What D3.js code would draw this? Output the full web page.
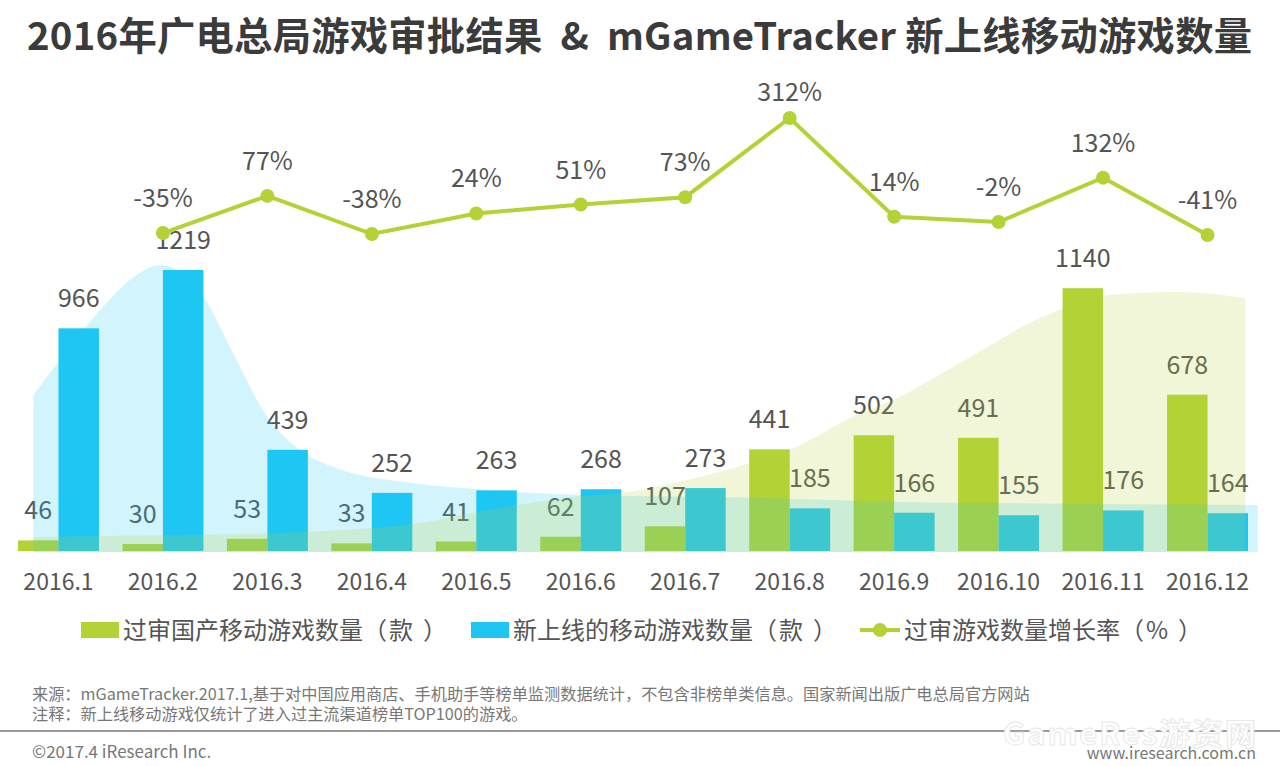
<!DOCTYPE html>
<html>
<head>
<meta charset="utf-8">
<script src="https://cdn.jsdelivr.net/npm/d3@7"></script>
<style>
html, body { margin: 0; padding: 0; background: #fff; }
svg { display: block; }
text { font-family: "Noto Sans CJK SC", "Noto Sans", sans-serif; }
</style>
</head>
<body>
<div id="chart"></div>
<script>
var months = ["2016.1", "2016.2", "2016.3", "2016.4", "2016.5", "2016.6", "2016.7", "2016.8", "2016.9", "2016.10", "2016.11", "2016.12"];
var approved = [46, 30, 53, 33, 41, 62, 107, 441, 502, 491, 1140, 678];
var launched = [966, 1219, 439, 252, 263, 268, 273, 185, 166, 155, 176, 164];
var growthMonths = months.slice(1);
var growth = [-35, 77, -38, 24, 51, 73, 312, 14, -2, 132, -41];

// soft background shapes behind the bars: month position, value
var launchedShapePos = [-0.24, 0, 0.4, 0.72, 0.976, 1.39, 1.67, 2.0, 2.31, 2.63, 3.46, 4.01, 5.01, 6.35, 8.05, 9.01, 11.48];
var launchedShapeVal = [677, 820, 1046, 1189, 1241, 1102, 859, 581, 438, 364, 291, 269, 243, 234, 213, 208, 200];
var approvedShapePos = [-0.24, 0.39, 2.09, 3.46, 4.01, 4.39, 5.01, 5.38, 6.02, 6.62, 7.0, 7.6, 7.99, 8.63, 9.42, 10.06, 10.7, 11.36];
var approvedShapeVal = [61, 65, 78, 121, 169, 200, 239, 252, 308, 382, 438, 581, 655, 816, 1015, 1111, 1124, 1098];

var legendNames = ["过审国产移动游戏数量", "新上线的移动游戏数量", "过审游戏数量增长率"];
var legendUnits = ["款", "款", "%"];
var footnotes = ["来源：mGameTracker.2017.1,基于对中国应用商店、手机助手等榜单监测数据统计，不包含非榜单类信息。国家新闻出版广电总局官方网站",
    "注释：新上线移动游戏仅统计了进入过主流渠道榜单TOP100的游戏。"];

var green = "#b2d235", blue = "#1fc6f4", textColor = "#555";
var width = 1280, height = 766, baseY = 551;

var svg = d3.select("#chart").append("svg")
    .attr("width", width)
    .attr("height", height);

svg.append("rect")
    .attr("width", width)
    .attr("height", height)
    .attr("fill", "#fff");

svg.append("text")
    .attr("x", 27)
    .attr("y", 50)
    .attr("textLength", 1225)
    .attr("font-size", 38.3)
    .attr("font-weight", 700)
    .attr("fill", "#3b3b3b")
    .text("2016年广电总局游戏审批结果\u00a0 & \u00a0mGameTracker 新上线移动游戏数量");

var x = d3.scaleBand()
    .domain(months)
    .range([18, 1248])
    .paddingInner(0.225)
    .paddingOuter(0);

var sub = d3.scaleBand()
    .domain(["approved", "launched"])
    .range([0, x.bandwidth()]);

var y = d3.scaleLinear().domain([0, 1219]).range([baseY, 270]);
var yGrowth = d3.scaleLinear().domain([-41, 312]).range([235, 118]);
var xShape = d3.scaleLinear().domain([0, 11]).range([x(months[0]) + x.bandwidth() / 2, x(months[11]) + x.bandwidth() / 2]);

// bars
function drawBars(values, key, color) {
    svg.selectAll(".bar-" + key)
        .data(values)
        .enter()
        .append("rect")
        .attr("class", "bar-" + key)
        .attr("x", (d, i) => x(months[i]) + sub(key))
        .attr("y", d => y(d))
        .attr("width", sub.bandwidth())
        .attr("height", d => baseY - y(d))
        .attr("fill", color);

    svg.selectAll(".label-" + key)
        .data(values)
        .enter()
        .append("text")
        .attr("class", "label-" + key)
        .attr("x", (d, i) => x(months[i]) + sub(key) + sub.bandwidth() / 2)
        .attr("y", d => y(d) - 21)
        .attr("text-anchor", "middle")
        .attr("font-size", 25)
        .attr("fill", textColor)
        .text(d => d);
}
drawBars(approved, "approved", green);
drawBars(launched, "launched", blue);

// soft shapes lie over the bars, that is where the teal comes from
function drawShape(pos, values, color) {
    var area = d3.area()
        .x((d, i) => xShape(pos[i]))
        .y0(baseY + 1)
        .y1(d => y(d))
        .curve(d3.curveMonotoneX);
    svg.append("path")
        .datum(values)
        .attr("d", area)
        .attr("fill", color)
        .attr("opacity", 0.2);
}
drawShape(launchedShapePos, launchedShapeVal, blue);
drawShape(approvedShapePos, approvedShapeVal, green);

// month labels
var xAxis = svg.append("g")
    .attr("transform", "translate(0," + baseY + ")")
    .call(d3.axisBottom(x).tickSize(0).tickPadding(0));
xAxis.select(".domain").remove();
xAxis.selectAll("text")
    .attr("y", 39)
    .attr("dy", 0)
    .attr("font-size", 23)
    .attr("font-family", '"Noto Sans CJK SC", sans-serif')
    .attr("fill", textColor);

// growth line
var line = d3.line()
    .x((d, i) => x(growthMonths[i]) + x.bandwidth() / 2)
    .y(d => yGrowth(d));

svg.append("path")
    .datum(growth)
    .attr("d", line)
    .attr("fill", "none")
    .attr("stroke", green)
    .attr("stroke-width", 4);

svg.selectAll(".point")
    .data(growth)
    .enter()
    .append("circle")
    .attr("class", "point")
    .attr("cx", (d, i) => x(growthMonths[i]) + x.bandwidth() / 2)
    .attr("cy", d => yGrowth(d))
    .attr("r", 7)
    .attr("fill", green);

svg.selectAll(".growth-label")
    .data(growth)
    .enter()
    .append("text")
    .attr("class", "growth-label")
    .attr("x", (d, i) => x(growthMonths[i]) + x.bandwidth() / 2)
    .attr("y", d => Math.max(yGrowth(d) - 26, 101))
    .attr("text-anchor", "middle")
    .attr("font-size", 25)
    .attr("fill", textColor)
    .text(d => d + "%");

// legend
var legendY = 630;
svg.append("rect").attr("x", 81).attr("y", legendY - 8).attr("width", 38).attr("height", 16).attr("fill", green);
svg.append("rect").attr("x", 471).attr("y", legendY - 8).attr("width", 38).attr("height", 16).attr("fill", blue);
svg.append("line").attr("x1", 860).attr("x2", 900).attr("y1", legendY).attr("y2", legendY).attr("stroke", green).attr("stroke-width", 4);
svg.append("circle").attr("cx", 880).attr("cy", legendY).attr("r", 7).attr("fill", green);

var legendText = svg.selectAll(".legend-label")
    .data(legendNames)
    .enter()
    .append("text")
    .attr("class", "legend-label")
    .attr("x", (d, i) => [123, 513, 904][i])
    .attr("y", legendY + 9)
    .attr("font-size", 24)
    .attr("fill", textColor);
legendText.append("tspan").text(d => d);
// the brackets sit wider apart than the font sets them
legendText.append("tspan").text("（");
legendText.append("tspan").attr("dx", 2).text((d, i) => legendUnits[i]);
legendText.append("tspan").attr("dx", 10).text("）");

// footer
svg.selectAll(".footnote")
    .data(footnotes)
    .enter()
    .append("text")
    .attr("class", "footnote")
    .attr("x", 32)
    .attr("y", (d, i) => 700 + i * 20)
    .attr("font-size", 16.2)
    .attr("fill", "#777")
    .text(d => d);

svg.append("line")
    .attr("x1", 0).attr("x2", width)
    .attr("y1", 731).attr("y2", 731)
    .attr("stroke", "#999")
    .attr("stroke-width", 2);

svg.append("text")
    .attr("x", 1003).attr("y", 745)
    .attr("textLength", 253)
    .attr("font-size", 31)
    .attr("font-weight", 700)
    .attr("fill", "#fff")
    .attr("stroke", "#e8e8e8")
    .attr("stroke-width", 1)
    .text("GameRes游资网");

svg.append("text")
    .attr("x", 32).attr("y", 758)
    .attr("font-size", 17)
    .attr("fill", "#777")
    .text("©2017.4 iResearch Inc.");

svg.append("text")
    .attr("x", 1256).attr("y", 759)
    .attr("text-anchor", "end")
    .attr("font-size", 16)
    .attr("fill", "#777")
    .text("www.iresearch.com.cn");
</script>
</body>
</html>
